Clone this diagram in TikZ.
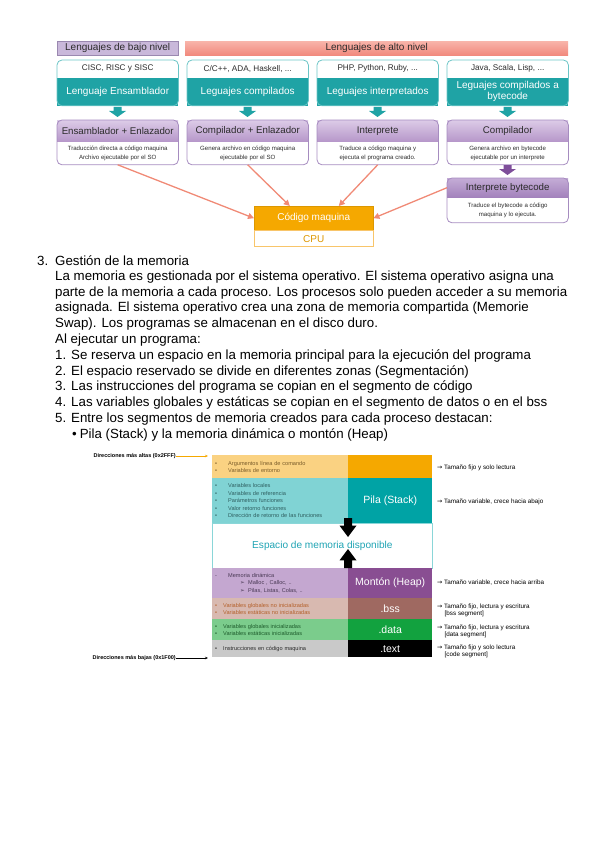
\documentclass[tikz,border=0pt]{standalone}
\usepackage{fontspec}
\setmainfont{Liberation Sans}
\newfontfamily\symfont{DejaVu Sans}
\usetikzlibrary{arrows.meta,positioning,calc}

% colours of the language diagram
\definecolor{lavhdr}{HTML}{C9B8DA}
\definecolor{hdrline}{HTML}{9A88B0}
\definecolor{salmonA}{HTML}{F8B4AA}
\definecolor{salmonB}{HTML}{F1897D}
\definecolor{tealbox}{HTML}{1FA3A5}
\definecolor{tealline}{HTML}{6CC5C6}
\definecolor{purpA}{HTML}{DCCBE7}
\definecolor{purpB}{HTML}{B798CA}
\definecolor{purpC}{HTML}{C4ACD6}
\definecolor{purpD}{HTML}{A382BC}
\definecolor{purpline}{HTML}{A68CC0}
\definecolor{purparrow}{HTML}{7E4E9A}
\definecolor{arrowsal}{HTML}{F08A76}
\definecolor{orangebox}{HTML}{F5A800}
\definecolor{orangeline}{HTML}{F8C56A}
\definecolor{darktxt}{HTML}{2B2B2B}
% colours of the memory map
\definecolor{argL}{HTML}{FAD282}
\definecolor{argtxt}{HTML}{7A5C2A}
\definecolor{stackL}{HTML}{80D3D4}
\definecolor{stackR}{HTML}{00A3A5}
\definecolor{stacktxt}{HTML}{2F5F60}
\definecolor{freeline}{HTML}{8AD6D8}
\definecolor{freetxt}{HTML}{1FA4B4}
\definecolor{heapL}{HTML}{C4A7D0}
\definecolor{heapR}{HTML}{894E92}
\definecolor{heaptxt}{HTML}{4A3A55}
\definecolor{bssL}{HTML}{D8B9B0}
\definecolor{bssR}{HTML}{9F6961}
\definecolor{bsstxt}{HTML}{B4602A}
\definecolor{dataL}{HTML}{7BCC8C}
\definecolor{dataR}{HTML}{12A23F}
\definecolor{datatxt}{HTML}{1E5C2C}
\definecolor{textL}{HTML}{C9C9C9}

\begin{document}
\begin{tikzpicture}[x=1pt, y=-1pt,
    lowhdr/.style={draw=hdrline, fill=lavhdr, minimum width=121, minimum height=14, inner sep=0, anchor=north west, text=darktxt, font=\fontsize{10}{12}\selectfont},
    highhdr/.style={top color=salmonA, bottom color=salmonB, minimum width=383, minimum height=14, inner sep=0, anchor=north west, text=darktxt, font=\fontsize{10}{12}\selectfont},
    example/.style={minimum width=121, minimum height=17, inner sep=0, anchor=north west, text=darktxt, font=\fontsize{8.2}{10}\selectfont},
    lang/.style={fill=tealbox, text=white, minimum width=121, minimum height=28, inner sep=0, anchor=north, align=center, font=\fontsize{10}{11.5}\selectfont},
    tealframe/.style={draw=tealline, line width=0.8, rounded corners=5},
    tool/.style={top color=purpA, bottom color=purpB, minimum width=121, minimum height=21, inner sep=0, anchor=north west, text=darktxt, font=\fontsize{9.7}{11}\selectfont},
    desc/.style={minimum width=121, minimum height=23, inner sep=0, anchor=north, align=center, text=darktxt, font=\fontsize{6.1}{8.8}\selectfont},
    purpframe/.style={draw=purpline, line width=0.8, rounded corners=5},
    tocode/.style={draw=arrowsal, line width=1.3, -{Triangle[length=6pt,width=6pt]}},
    codebox/.style={fill=orangebox, draw=orangebox!90!black, text=white, minimum width=119, minimum height=24, inner sep=0, anchor=north west, font=\fontsize{10}{12}\selectfont},
    cpubox/.style={draw=orangeline, fill=white, text=orangebox!90!black, minimum width=119, minimum height=16, inner sep=0, anchor=north, font=\fontsize{10}{12}\selectfont},
    body/.style={anchor=west, inner sep=0, font=\fontsize{13.3}{15}\selectfont},
    cellL/.style={minimum width=136, text width=130, inner xsep=3, inner ysep=0, anchor=north west, align=left, font=\fontsize{5.6}{7.4}\selectfont},
    cellR/.style={minimum width=84, inner sep=0, anchor=north west, text=white, font=\fontsize{10.5}{12}\selectfont},
    note/.style={anchor=west, inner sep=0, align=left, font=\fontsize{6.3}{7}\selectfont},
    addr/.style={anchor=east, inner sep=0, font=\bfseries\fontsize{5.5}{6}\selectfont},
    pics/blockdown/.style={code={\fill (-4,0) -- (4,0) -- (4,4) -- (8.5,4) -- (0,10) -- (-8.5,4) -- (-4,4) -- cycle;}}
]
\useasboundingbox (0,0) rectangle (600,848);

% Headers
\node[lowhdr] (bajo) at (57,41) {Lenguajes de bajo nivel};
\node[highhdr] (alto) at (185,41) {Lenguajes de alto nivel};

% Languages (teal boxes)
\node[example] (asmex) at (57,60) {CISC, RISC y SISC};
\node[lang] (asm) at (asmex.south) {Lenguaje Ensamblador};
\draw[tealframe] (asmex.north west) rectangle (asm.south east);

\node[example] (compex) at (187,60) {C/C++, ADA, Haskell, ...};
\node[lang] (comp) at (compex.south) {Leguajes compilados};
\draw[tealframe] (compex.north west) rectangle (comp.south east);

\node[example] (interex) at (317,60) {PHP, Python, Ruby, ...};
\node[lang] (inter) at (interex.south) {Leguajes interpretados};
\draw[tealframe] (interex.north west) rectangle (inter.south east);

\node[example] (bytex) at (447,60) {Java, Scala, Lisp, ...};
\node[lang] (byt) at (bytex.south) {Leguajes compilados a\\bytecode};
\draw[tealframe] (bytex.north west) rectangle (byt.south east);

% Down arrows
\pic[fill=tealbox] at (117.5,107) {blockdown};
\pic[fill=tealbox] at (247.5,107) {blockdown};
\pic[fill=tealbox] at (377.5,107) {blockdown};
\pic[fill=tealbox] at (507.5,107) {blockdown};

% Tools (purple boxes)
\node[tool] (ens) at (57,120) {Ensamblador + Enlazador};
\node[desc] (ensd) at (ens.south) {Traducción directa a código maquina\\Archivo ejecutable por el SO};
\draw[purpframe] (ens.north west) rectangle (ensd.south east);

\node[tool] (compl) at (187,120) {Compilador + Enlazador};
\node[desc] (compld) at (compl.south) {Genera archivo en código maquina\\ejecutable por el SO};
\draw[purpframe] (compl.north west) rectangle (compld.south east);

\node[tool] (interp) at (317,120) {Interprete};
\node[desc] (interpd) at (interp.south) {Traduce a código maquina y\\ejecuta el programa creado.};
\draw[purpframe] (interp.north west) rectangle (interpd.south east);

\node[tool] (bcomp) at (447,120) {Compilador};
\node[desc] (bcompd) at (bcomp.south) {Genera archivo en bytecode\\ejecutable por un interprete};
\draw[purpframe] (bcomp.north west) rectangle (bcompd.south east);

\pic[fill=purparrow] at (507.5,165) {blockdown};

\node[tool, top color=purpC, bottom color=purpD, minimum height=19] (bvm) at (447,178) {Interprete bytecode};
\node[desc, minimum height=25] (bvmd) at (bvm.south) {Traduce el bytecode a código\\maquina y lo ejecuta.};
\draw[purpframe] (bvm.north west) rectangle (bvmd.south east);

% Machine code
\node[codebox] (codigo) at (254,206) {Código maquina};
\node[cpubox] (cpu) at (codigo.south) {CPU};

\draw[tocode] (ensd.south) -- (codigo.west);
\draw[tocode] (compld.south) -- ($(codigo.north west)!0.3!(codigo.north east)$);
\draw[tocode] (interpd.south) -- ($(codigo.north west)!0.71!(codigo.north east)$);
\draw[tocode] (bvm.west) -- (codigo.east);

% Text
\node[body] (num3) at (37,261) {3.};
\node[body] (title) at (55,261) {Gestión de la memoria};
\node[body] (p1) at (55,276.8) {La memoria es gestionada por el sistema operativo. El sistema operativo asigna una};
\node[body] (p2) at (55,292.6) {parte de la memoria a cada proceso. Los procesos solo pueden acceder a su memoria};
\node[body] (p3) at (55,308.4) {asignada. El sistema operativo crea una zona de memoria compartida (Memorie};
\node[body] (p4) at (55,324.2) {Swap). Los programas se almacenan en el disco duro.};
\node[body] (p5) at (55,340) {Al ejecutar un programa:};
\node[body] (s1) at (55,355.8) {1. Se reserva un espacio en la memoria principal para la ejecución del programa};
\node[body] (s2) at (55,371.6) {2. El espacio reservado se divide en diferentes zonas (Segmentación)};
\node[body] (s3) at (55,387.4) {3. Las instrucciones del programa se copian en el segmento de código};
\node[body] (s4) at (55,403.2) {4. Las variables globales y estáticas se copian en el segmento de datos o en el bss};
\node[body] (s5) at (55,419) {5. Entre los segmentos de memoria creados para cada proceso destacan:};
\node[body] (s5a) at (72,434.8) {•\hspace{3pt}Pila (Stack) y la memoria dinámica o montón (Heap)};

% Memory map
\node[cellL, fill=argL, text=argtxt, minimum height=23] (argsL) at (212,455)
  {\makebox[13pt][l]{•}Argumentos línea de comando\\\makebox[13pt][l]{•}Variables de entorno};
\node[cellR, fill=orangebox, minimum height=23] (argsR) at (348,455) {};

\node[cellL, fill=stackL, text=stacktxt, minimum height=45] (stackL) at (212,478)
  {\makebox[13pt][l]{•}Variables locales\\\makebox[13pt][l]{•}Variables de referencia\\\makebox[13pt][l]{•}Parámetros funciones\\\makebox[13pt][l]{•}Valor retorno funciones\\\makebox[13pt][l]{•}Dirección de retorno de las funciones};
\node[cellR, fill=stackR, minimum height=45] (stackR) at (348,478) {Pila (Stack)};

\node[draw=freeline, line width=0.8, fill=white, minimum width=220, minimum height=45, inner sep=0, anchor=north west, text=freetxt, font=\fontsize{10.1}{12}\selectfont] (free) at (212,523) {Espacio de memoria disponible};

\node[cellL, fill=heapL, text=heaptxt, minimum height=30] (heapL) at (212,568)
  {\makebox[13pt][l]{-}Memoria dinámica\\\hspace*{25pt}\makebox[8pt][l]{\symfont ➢}Malloc , Calloc, ..\\\hspace*{25pt}\makebox[8pt][l]{\symfont ➢}Pilas, Listas, Colas, ..};
\node[cellR, fill=heapR, minimum height=30] (heapR) at (348,568) {Montón (Heap)};

\node[cellL, fill=bssL, text=bsstxt, minimum height=21] (bssL) at (212,598)
  {\makebox[8pt][l]{•}Variables globales no inicializadas\\\makebox[8pt][l]{•}Variables estáticas no inicializadas};
\node[cellR, fill=bssR, minimum height=21] (bssR) at (348,598) {.bss};

\node[cellL, fill=dataL, text=datatxt, minimum height=21] (dataL) at (212,619)
  {\makebox[8pt][l]{•}Variables globales inicializadas\\\makebox[8pt][l]{•}Variables estáticas inicializadas};
\node[cellR, fill=dataR, minimum height=21] (dataR) at (348,619) {.data};

\node[cellL, fill=textL, text=darktxt, minimum height=17] (textL) at (212,640)
  {\makebox[8pt][l]{•}Instrucciones en código maquina};
\node[cellR, fill=black, minimum height=17] (textR) at (348,640) {.text};

% Growth arrows
\pic[fill=black, yscale=1.9] at (348,518) {blockdown};
\pic[fill=black, yscale=-1.9] at (348,568) {blockdown};

% Addresses
\node[addr] (alta) at (176,456) {Direcciones más altas (0x2FFF)};
\coordinate (altaend) at (208,456);
\draw[orangebox, line width=0.6, -{Stealth[length=3pt,width=2.5pt]}] (alta.east) -- (altaend);
\node[addr] (baja) at (176,658) {Direcciones más bajas (0x1F00)};
\coordinate (bajaend) at (208,658);
\draw[black, line width=0.6, -{Stealth[length=3pt,width=2.5pt]}] (baja.east) -- (bajaend);

% Notes
\node[note] (n1) at (437,468) {{\symfont →} Tamaño fijo y solo lectura};
\node[note] (n2) at (437,502) {{\symfont →} Tamaño variable, crece hacia abajo};
\node[note] (n3) at (437,583) {{\symfont →} Tamaño variable, crece hacia arriba};
\node[note] (n4) at (437,610) {{\symfont →} Tamaño fijo, lectura y escritura\\\hspace*{7.5pt}[bss segment]};
\node[note] (n5) at (437,631) {{\symfont →} Tamaño fijo, lectura y escritura\\\hspace*{7.5pt}[data segment]};
\node[note] (n6) at (437,651) {{\symfont →} Tamaño fijo y solo lectura\\\hspace*{7.5pt}[code segment]};

\end{tikzpicture}
\end{document}
